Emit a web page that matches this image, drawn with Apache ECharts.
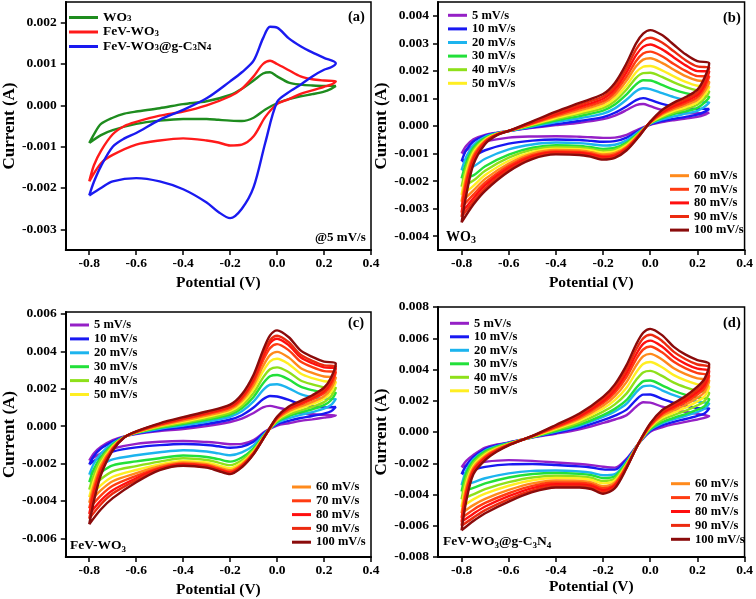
<!DOCTYPE html>
<html><head><meta charset="utf-8">
<script src="https://cdn.jsdelivr.net/npm/echarts@6/dist/echarts.min.js"></script>
<style>html,body{margin:0;padding:0;background:#fff}#c{width:756px;height:599px}</style>
</head><body><div id="c"></div><script>
// ---------- shared potential grids (V) ----------
const potForward = [-0.8, -0.78, -0.75, -0.7, -0.65, -0.6, -0.5, -0.4, -0.3, -0.2, -0.15, -0.1, -0.06, -0.03, 0, 0.05, 0.1, 0.15, 0.2, 0.25];
const potReverse = [0.23, 0.2, 0.15, 0.1, 0.05, 0, -0.05, -0.1, -0.15, -0.2, -0.25, -0.3, -0.4, -0.5, -0.6, -0.7, -0.75, -0.8];

// ---------- tick labels ----------
const xTicks = [-0.8, -0.6, -0.4, -0.2, 0, 0.2, 0.4];
const yTicksA = [-0.003, -0.002, -0.001, 0, 0.001, 0.002];
const yTicksB = [-0.004, -0.003, -0.002, -0.001, 0, 0.001, 0.002, 0.003, 0.004];
const yTicksC = [-0.006, -0.004, -0.002, 0, 0.002, 0.004, 0.006];
const yTicksD = [-0.008, -0.006, -0.004, -0.002, 0, 0.002, 0.004, 0.006, 0.008];

// ---------- panel (a) currents (mA) ----------
const sampleNames = ['WO3', 'FeV-WO3', 'FeV-WO3@g-C3N4'];
const sampleColors = ['#1E8C1E', '#FF1A1A', '#1A1AF0'];
const aForward = [
  [-0.91, -0.7, -0.45, -0.3, -0.2, -0.15, -0.07, 0.03, 0.1, 0.25, 0.4, 0.6, 0.77, 0.8, 0.7, 0.55, 0.5, 0.48, 0.47, 0.47],
  [-1.84, -1.45, -1.1, -0.7, -0.5, -0.4, -0.25, -0.15, 0.0, 0.22, 0.4, 0.7, 1.0, 1.08, 1.0, 0.85, 0.7, 0.63, 0.6, 0.58],
  [-2.18, -1.85, -1.47, -1.0, -0.8, -0.67, -0.35, -0.11, 0.17, 0.58, 0.8, 1.08, 1.62, 1.9, 1.88, 1.62, 1.43, 1.28, 1.15, 1.02]
];
const aReverse = [
  [0.4, 0.33, 0.27, 0.22, 0.15, 0.05, -0.1, -0.3, -0.38, -0.37, -0.35, -0.33, -0.33, -0.37, -0.45, -0.6, -0.72, -0.91],
  [0.5, 0.45, 0.36, 0.28, 0.15, 0.03, -0.28, -0.75, -0.95, -0.97, -0.9, -0.85, -0.8, -0.85, -0.95, -1.2, -1.4, -1.84],
  [0.92, 0.86, 0.7, 0.5, 0.32, 0.08, -0.9, -1.98, -2.5, -2.73, -2.58, -2.35, -2.03, -1.84, -1.76, -1.84, -2.0, -2.18]
];

// ---------- scan rates ----------
const rateNames = ['5 mV/s', '10 mV/s', '20 mV/s', '30 mV/s', '40 mV/s', '50 mV/s', '60 mV/s', '70 mV/s', '80 mV/s', '90 mV/s', '100 mV/s'];
const rateColors = ['#9520C6', '#1818F2', '#1CB4EE', '#22E03A', '#8EE01A', '#FFEE22', '#FF8A1C', '#FF3C12', '#FF0F0F', '#EC2A10', '#8A0B0B'];

// ---------- panel (b) WO3 (mA) ----------
const wo3Forward = [
  [-1.0, -0.72, -0.48, -0.32, -0.24, -0.18, -0.07, 0.03, 0.12, 0.25, 0.38, 0.58, 0.76, 0.8, 0.72, 0.58, 0.5, 0.47, 0.46, 0.48],
  [-1.28, -0.87, -0.56, -0.35, -0.25, -0.18, -0.05, 0.07, 0.18, 0.32, 0.48, 0.72, 0.94, 1.01, 0.95, 0.80, 0.70, 0.65, 0.62, 0.62],
  [-1.6, -1.12, -0.69, -0.39, -0.26, -0.18, -0.02, 0.14, 0.28, 0.45, 0.64, 0.96, 1.26, 1.37, 1.34, 1.19, 1.05, 0.95, 0.88, 0.85],
  [-1.9, -1.32, -0.79, -0.43, -0.27, -0.18, 0.01, 0.20, 0.36, 0.56, 0.78, 1.15, 1.51, 1.66, 1.65, 1.49, 1.32, 1.19, 1.10, 1.05],
  [-2.2, -1.50, -0.89, -0.47, -0.28, -0.18, 0.04, 0.25, 0.44, 0.65, 0.90, 1.33, 1.75, 1.92, 1.93, 1.78, 1.58, 1.41, 1.29, 1.25],
  [-2.5, -1.66, -0.97, -0.50, -0.29, -0.18, 0.06, 0.29, 0.50, 0.73, 1.01, 1.48, 1.95, 2.15, 2.18, 2.02, 1.80, 1.60, 1.46, 1.42],
  [-2.75, -1.84, -1.06, -0.53, -0.30, -0.18, 0.08, 0.34, 0.57, 0.82, 1.12, 1.65, 2.17, 2.41, 2.46, 2.29, 2.04, 1.81, 1.65, 1.60],
  [-2.95, -1.99, -1.14, -0.56, -0.30, -0.18, 0.10, 0.38, 0.64, 0.90, 1.23, 1.80, 2.36, 2.63, 2.70, 2.53, 2.25, 2.00, 1.81, 1.80],
  [-3.15, -2.16, -1.23, -0.59, -0.31, -0.18, 0.12, 0.43, 0.70, 0.99, 1.34, 1.96, 2.57, 2.87, 2.96, 2.78, 2.49, 2.20, 1.99, 1.98],
  [-3.3, -2.32, -1.31, -0.62, -0.32, -0.18, 0.15, 0.47, 0.77, 1.07, 1.44, 2.11, 2.78, 3.10, 3.20, 3.03, 2.71, 2.39, 2.16, 2.12],
  [-3.5, -2.5, -1.4, -0.65, -0.33, -0.18, 0.17, 0.52, 0.84, 1.16, 1.56, 2.28, 3.0, 3.35, 3.48, 3.3, 2.95, 2.6, 2.35, 2.28]
];
const wo3Reverse = [
  [0.40, 0.33, 0.27, 0.21, 0.14, 0.04, -0.12, -0.32, -0.42, -0.43, -0.41, -0.39, -0.37, -0.38, -0.42, -0.56, -0.72, -1.0],
  [0.51, 0.41, 0.33, 0.26, 0.18, 0.06, -0.17, -0.42, -0.55, -0.57, -0.54, -0.51, -0.49, -0.53, -0.64, -0.88, -1.10, -1.28],
  [0.70, 0.55, 0.45, 0.35, 0.24, 0.08, -0.22, -0.52, -0.68, -0.71, -0.66, -0.62, -0.60, -0.67, -0.85, -1.19, -1.47, -1.6],
  [0.85, 0.66, 0.53, 0.43, 0.29, 0.10, -0.26, -0.60, -0.79, -0.83, -0.77, -0.72, -0.70, -0.79, -1.04, -1.46, -1.79, -1.9],
  [0.99, 0.77, 0.61, 0.49, 0.33, 0.11, -0.29, -0.65, -0.86, -0.90, -0.83, -0.78, -0.76, -0.86, -1.15, -1.62, -1.98, -2.2],
  [1.12, 0.86, 0.68, 0.55, 0.37, 0.12, -0.31, -0.70, -0.92, -0.97, -0.89, -0.84, -0.82, -0.94, -1.26, -1.78, -2.17, -2.5],
  [1.25, 0.95, 0.76, 0.61, 0.42, 0.12, -0.33, -0.75, -0.98, -1.03, -0.95, -0.89, -0.87, -1.00, -1.36, -1.92, -2.34, -2.75],
  [1.37, 1.04, 0.83, 0.67, 0.46, 0.13, -0.35, -0.79, -1.03, -1.09, -1.00, -0.94, -0.92, -1.06, -1.44, -2.05, -2.49, -2.95],
  [1.49, 1.13, 0.90, 0.73, 0.50, 0.14, -0.37, -0.82, -1.08, -1.13, -1.04, -0.98, -0.96, -1.11, -1.52, -2.15, -2.62, -3.15],
  [1.62, 1.22, 0.97, 0.79, 0.54, 0.15, -0.39, -0.85, -1.12, -1.18, -1.09, -1.02, -1.00, -1.16, -1.59, -2.26, -2.74, -3.3],
  [1.75, 1.32, 1.05, 0.85, 0.58, 0.15, -0.4, -0.88, -1.16, -1.22, -1.12, -1.05, -1.03, -1.2, -1.65, -2.35, -2.85, -3.5]
];

// ---------- panel (c) FeV-WO3 (mA) ----------
const fevForward = [
  [-1.84, -1.45, -1.1, -0.75, -0.55, -0.42, -0.27, -0.16, 0.0, 0.22, 0.4, 0.7, 1.0, 1.08, 1.0, 0.85, 0.7, 0.63, 0.6, 0.58],
  [-2.05, -1.6, -1.2, -0.83, -0.56, -0.40, -0.21, -0.07, 0.11, 0.35, 0.58, 0.99, 1.43, 1.61, 1.58, 1.40, 1.17, 1.06, 1.00, 1.02],
  [-2.6, -2.0, -1.45, -0.92, -0.57, -0.38, -0.14, 0.03, 0.23, 0.50, 0.79, 1.32, 1.92, 2.21, 2.24, 2.02, 1.71, 1.55, 1.46, 1.45],
  [-3.0, -2.3, -1.65, -0.98, -0.57, -0.36, -0.09, 0.11, 0.33, 0.61, 0.95, 1.56, 2.28, 2.66, 2.73, 2.49, 2.11, 1.92, 1.80, 1.78],
  [-3.4, -2.6, -1.8, -1.04, -0.58, -0.35, -0.05, 0.17, 0.41, 0.70, 1.08, 1.77, 2.59, 3.04, 3.14, 2.88, 2.44, 2.23, 2.08, 2.05],
  [-3.8, -2.9, -1.98, -1.10, -0.58, -0.33, 0.00, 0.24, 0.49, 0.81, 1.22, 1.99, 2.92, 3.46, 3.60, 3.31, 2.81, 2.56, 2.40, 2.36],
  [-4.1, -3.15, -2.1, -1.15, -0.59, -0.32, 0.03, 0.30, 0.56, 0.89, 1.34, 2.18, 3.20, 3.79, 3.97, 3.66, 3.11, 2.84, 2.65, 2.6],
  [-4.4, -3.38, -2.25, -1.20, -0.59, -0.31, 0.07, 0.37, 0.64, 0.98, 1.47, 2.38, 3.50, 4.17, 4.38, 4.05, 3.45, 3.15, 2.94, 2.88],
  [-4.7, -3.6, -2.38, -1.24, -0.59, -0.30, 0.10, 0.41, 0.69, 1.05, 1.56, 2.52, 3.71, 4.44, 4.67, 4.32, 3.68, 3.36, 3.14, 3.08],
  [-4.95, -3.8, -2.48, -1.26, -0.60, -0.29, 0.12, 0.44, 0.73, 1.09, 1.61, 2.61, 3.84, 4.59, 4.83, 4.48, 3.82, 3.49, 3.25, 3.2],
  [-5.25, -4.0, -2.6, -1.3, -0.6, -0.28, 0.15, 0.48, 0.78, 1.15, 1.7, 2.75, 4.05, 4.85, 5.12, 4.75, 4.05, 3.7, 3.45, 3.35]
];
const fevReverse = [
  [0.5, 0.45, 0.36, 0.28, 0.15, 0.03, -0.28, -0.75, -0.95, -0.97, -0.9, -0.85, -0.8, -0.84, -0.95, -1.2, -1.45, -1.84],
  [0.79, 0.67, 0.54, 0.43, 0.28, 0.10, -0.31, -0.84, -1.10, -1.16, -1.08, -1.01, -0.96, -1.02, -1.14, -1.36, -1.63, -2.05],
  [1.13, 0.93, 0.75, 0.60, 0.42, 0.17, -0.36, -1.03, -1.41, -1.56, -1.46, -1.36, -1.29, -1.40, -1.56, -1.78, -2.11, -2.6],
  [1.38, 1.12, 0.90, 0.73, 0.53, 0.23, -0.41, -1.19, -1.68, -1.90, -1.77, -1.65, -1.57, -1.72, -1.89, -2.10, -2.47, -3.0],
  [1.59, 1.28, 1.03, 0.84, 0.62, 0.27, -0.43, -1.28, -1.83, -2.09, -1.95, -1.81, -1.72, -1.90, -2.14, -2.42, -2.83, -3.4],
  [1.82, 1.46, 1.17, 0.95, 0.72, 0.33, -0.46, -1.35, -1.95, -2.25, -2.10, -1.95, -1.86, -2.05, -2.35, -2.71, -3.16, -3.8],
  [2.01, 1.60, 1.29, 1.05, 0.80, 0.37, -0.47, -1.40, -2.04, -2.36, -2.21, -2.04, -1.95, -2.15, -2.52, -2.95, -3.43, -4.1],
  [2.22, 1.76, 1.42, 1.16, 0.89, 0.42, -0.48, -1.44, -2.10, -2.44, -2.28, -2.11, -2.01, -2.23, -2.66, -3.19, -3.70, -4.4],
  [2.37, 1.87, 1.51, 1.23, 0.95, 0.45, -0.49, -1.46, -2.14, -2.49, -2.33, -2.15, -2.05, -2.28, -2.79, -3.43, -3.97, -4.7],
  [2.45, 1.94, 1.56, 1.28, 0.99, 0.47, -0.50, -1.49, -2.18, -2.54, -2.37, -2.19, -2.09, -2.32, -2.89, -3.61, -4.18, -4.95],
  [2.6, 2.05, 1.65, 1.35, 1.05, 0.5, -0.5, -1.5, -2.2, -2.57, -2.4, -2.22, -2.12, -2.35, -3.0, -3.85, -4.45, -5.25]
];

// ---------- panel (d) FeV-WO3@g-C3N4 (mA) ----------
const cnForward = [
  [-2.25, -1.85, -1.47, -1.0, -0.8, -0.67, -0.35, -0.11, 0.17, 0.58, 0.8, 1.08, 1.62, 1.9, 1.88, 1.62, 1.43, 1.28, 1.15, 1.02],
  [-2.7, -2.13, -1.61, -1.09, -0.85, -0.69, -0.34, -0.05, 0.28, 0.76, 1.05, 1.43, 2.06, 2.39, 2.40, 2.12, 1.87, 1.68, 1.53, 1.5],
  [-3.4, -2.44, -1.75, -1.18, -0.90, -0.71, -0.33, 0.02, 0.40, 0.96, 1.32, 1.82, 2.54, 2.92, 2.97, 2.67, 2.36, 2.12, 1.94, 1.82],
  [-3.8, -2.62, -1.84, -1.24, -0.94, -0.72, -0.32, 0.06, 0.47, 1.08, 1.48, 2.05, 2.81, 3.24, 3.30, 2.99, 2.64, 2.38, 2.19, 2.1],
  [-4.3, -2.95, -2.00, -1.34, -0.99, -0.75, -0.31, 0.13, 0.60, 1.30, 1.77, 2.47, 3.33, 3.81, 3.91, 3.59, 3.16, 2.86, 2.63, 2.5],
  [-4.8, -3.25, -2.15, -1.44, -1.05, -0.77, -0.30, 0.20, 0.73, 1.50, 2.04, 2.85, 3.81, 4.35, 4.48, 4.14, 3.64, 3.30, 3.05, 2.9],
  [-5.2, -3.53, -2.28, -1.53, -1.10, -0.79, -0.28, 0.26, 0.84, 1.68, 2.29, 3.21, 4.25, 4.84, 5.00, 4.64, 4.08, 3.70, 3.43, 3.3],
  [-5.5, -3.79, -2.41, -1.61, -1.14, -0.81, -0.27, 0.32, 0.94, 1.85, 2.51, 3.53, 4.65, 5.28, 5.47, 5.10, 4.49, 4.07, 3.77, 3.6],
  [-5.75, -3.99, -2.50, -1.67, -1.18, -0.82, -0.27, 0.36, 1.02, 1.98, 2.69, 3.79, 4.96, 5.64, 5.85, 5.47, 4.81, 4.36, 4.05, 3.9],
  [-6.0, -4.20, -2.60, -1.74, -1.21, -0.84, -0.26, 0.41, 1.10, 2.12, 2.87, 4.04, 5.28, 5.99, 6.22, 5.83, 5.13, 4.66, 4.32, 4.15],
  [-6.3, -4.4, -2.7, -1.8, -1.25, -0.85, -0.25, 0.45, 1.18, 2.25, 3.05, 4.3, 5.6, 6.35, 6.6, 6.2, 5.45, 4.95, 4.6, 4.35]
];
const cnReverse = [
  [0.9, 0.8, 0.65, 0.5, 0.3, 0.02, -0.75, -1.7, -2.28, -2.22, -2.12, -2.05, -1.95, -1.85, -1.8, -1.9, -2.05, -2.25],
  [1.18, 1.03, 0.83, 0.65, 0.42, 0.08, -0.75, -1.76, -2.41, -2.39, -2.27, -2.20, -2.11, -2.05, -2.07, -2.23, -2.42, -2.7],
  [1.48, 1.28, 1.03, 0.81, 0.55, 0.14, -0.75, -1.89, -2.70, -2.77, -2.61, -2.53, -2.46, -2.49, -2.65, -2.96, -3.22, -3.4],
  [1.65, 1.43, 1.15, 0.91, 0.63, 0.18, -0.75, -1.95, -2.83, -2.95, -2.76, -2.68, -2.62, -2.69, -2.91, -3.29, -3.58, -3.8],
  [1.98, 1.70, 1.36, 1.08, 0.77, 0.25, -0.75, -2.02, -2.98, -3.14, -2.93, -2.85, -2.80, -2.91, -3.21, -3.65, -3.99, -4.3],
  [2.28, 1.96, 1.56, 1.24, 0.91, 0.31, -0.75, -2.07, -3.10, -3.29, -3.07, -2.98, -2.94, -3.09, -3.44, -3.95, -4.31, -4.8],
  [2.55, 2.19, 1.74, 1.39, 1.03, 0.37, -0.75, -2.13, -3.23, -3.47, -3.22, -3.13, -3.10, -3.29, -3.71, -4.28, -4.68, -5.2],
  [2.80, 2.40, 1.90, 1.53, 1.14, 0.42, -0.75, -2.18, -3.34, -3.60, -3.34, -3.25, -3.23, -3.45, -3.92, -4.54, -4.97, -5.5],
  [3.00, 2.56, 2.04, 1.63, 1.22, 0.47, -0.75, -2.22, -3.43, -3.73, -3.45, -3.36, -3.34, -3.59, -4.11, -4.77, -5.23, -5.75],
  [3.20, 2.73, 2.17, 1.74, 1.31, 0.51, -0.75, -2.26, -3.52, -3.85, -3.56, -3.46, -3.45, -3.73, -4.29, -5.00, -5.48, -6.0],
  [3.4, 2.9, 2.3, 1.85, 1.4, 0.55, -0.75, -2.3, -3.6, -3.95, -3.65, -3.55, -3.55, -3.85, -4.45, -5.2, -5.7, -6.3]
];

// ---------- build ----------
const FONT = "'Liberation Serif', 'Times New Roman', serif";
const subStyle = (fs, lh) => ({ fontFamily: FONT, fontWeight: 'bold', fontSize: fs, lineHeight: lh, verticalAlign: 'bottom', color: '#000' });
const richLabel = {
  'WO3': 'WO{s|3}',
  'FeV-WO3': 'FeV-WO{s|3}',
  'FeV-WO3@g-C3N4': 'FeV-WO{s|3}@g-C{s|3}N{s|4}'
};

function loopPoints(fwd, rev) {
  const pts = potForward.map((p, i) => [p, fwd[i] / 1000]);
  return pts.concat(potReverse.map((p, i) => [p, rev[i] / 1000]));
}

const grids = [
  { left: 61, top: 2, width: 310, height: 248 },
  { left: 438, top: 2, width: 308, height: 248 },
  { left: 61, top: 312, width: 310, height: 247 },
  { left: 438, top: 307, width: 308, height: 250 }
].map(g => Object.assign(g, { show: true, borderColor: '#000', borderWidth: 1.5, containLabel: false }));

const yRanges = [[-0.0035, 0.0025], [-0.0045, 0.0045], [-0.007, 0.0061], [-0.008, 0.008]];
const yTickSets = [yTicksA, yTicksB, yTicksC, yTicksD];
const xNameGap = [25, 25, 25, 21];
const yNameGap = [41, 42, 41, 40];

const axisLbl = { fontFamily: FONT, fontWeight: 'bold', fontSize: 13.5, color: '#000' };

const xAxes = grids.map((g, i) => ({
  gridIndex: i, type: 'value', min: -0.9, max: 0.4,
  name: 'Potential (V)', nameLocation: 'middle', nameGap: xNameGap[i],
  nameTextStyle: { fontFamily: FONT, fontWeight: 'bold', fontSize: 15.5, color: '#000' },
  axisLine: { show: true, onZero: false, lineStyle: { color: '#000', width: 2 } },
  axisTick: { show: true, inside: false, length: 5, customValues: xTicks, lineStyle: { color: '#000', width: 1.5 } },
  axisLabel: Object.assign({ margin: 7, customValues: xTicks, formatter: v => v.toFixed(1) }, axisLbl),
  splitLine: { show: false }
}));

const yAxes = grids.map((g, i) => ({
  gridIndex: i, type: 'value', min: yRanges[i][0], max: yRanges[i][1],
  name: 'Current (A)', nameLocation: 'middle', nameGap: yNameGap[i],
  nameTextStyle: { fontFamily: FONT, fontWeight: 'bold', fontSize: 17, color: '#000' },
  axisLine: { show: true, onZero: false, lineStyle: { color: '#000', width: 2 } },
  axisTick: { show: true, inside: false, length: 5, customValues: yTickSets[i], lineStyle: { color: '#000', width: 1.5 } },
  axisLabel: Object.assign({ margin: 9, customValues: yTickSets[i], formatter: v => (Math.abs(v) < 1e-9 ? 0 : v).toFixed(3) }, axisLbl),
  splitLine: { show: false }
}));

const series = [];
function addLine(idx, name, color, pts) {
  series.push({
    type: 'line', name: name, xAxisIndex: idx, yAxisIndex: idx, data: pts,
    showSymbol: false, symbol: 'none', smooth: 0.3, color: color,
    lineStyle: { width: 2.4, color: color }, animation: false, silent: true
  });
}
sampleNames.forEach((n, i) => addLine(0, n, sampleColors[i], loopPoints(aForward[i], aReverse[i])));
rateNames.forEach((n, i) => addLine(1, n, rateColors[i], loopPoints(wo3Forward[i], wo3Reverse[i])));
rateNames.forEach((n, i) => addLine(2, n, rateColors[i], loopPoints(fevForward[i], fevReverse[i])));
rateNames.forEach((n, i) => addLine(3, n, rateColors[i], loopPoints(cnForward[i], cnReverse[i])));

function rateLegend(left, top, names, gap) {
  return {
    orient: 'vertical', left: left, top: top, padding: 0, itemGap: gap,
    itemWidth: 19, itemHeight: 3, icon: 'rect', data: names, selectedMode: false,
    textStyle: { fontFamily: FONT, fontWeight: 'bold', fontSize: 12.5, lineHeight: 13, color: '#000' }
  };
}
const firstRates = rateNames.slice(0, 6);
const lastRates = rateNames.slice(6);

const legends = [
  {
    orient: 'vertical', left: 69, top: 10.5, padding: 0, itemGap: 0.5,
    itemWidth: 29, itemHeight: 3, icon: 'rect', data: sampleNames, selectedMode: false,
    formatter: n => richLabel[n],
    textStyle: { fontFamily: FONT, fontWeight: 'bold', fontSize: 13.5, lineHeight: 12, color: '#000', rich: { s: subStyle(9, 7) } }
  },
  rateLegend(448, 8.8, firstRates, 0.6),
  rateLegend(670, 169.2, lastRates, 0.6),
  rateLegend(70, 318.5, firstRates, 0.9),
  rateLegend(292, 480.5, lastRates, 0.8),
  rateLegend(450, 316.8, firstRates, 0.5),
  rateLegend(671, 477.2, lastRates, 0.9)
];

function txt(x, y, text, size) {
  return {
    type: 'text', x: x, y: y, silent: true, z: 100,
    style: {
      text: text, fill: '#000', font: 'bold ' + size + 'px ' + FONT,
      align: 'left', verticalAlign: 'middle', lineHeight: size + 2,
      rich: { s: subStyle(Math.round(size * 0.68), Math.round(size * 0.6)) }
    }
  };
}
const graphics = [
  txt(348, 17, '(a)', 14.5),
  txt(723, 18, '(b)', 14.5),
  txt(348, 323, '(c)', 14.5),
  txt(723, 323, '(d)', 14.5),
  txt(315, 238, '@5 mV/s', 13),
  txt(446, 237, 'WO{s|3}', 14),
  txt(70, 546, 'FeV-WO{s|3}', 13.5),
  txt(443, 542, 'FeV-WO{s|3}@g-C{s|3}N{s|4}', 13.5)
];

const chart = echarts.init(document.getElementById('c'), null, { renderer: 'canvas' });
chart.setOption({
  animation: false,
  backgroundColor: '#fff',
  grid: grids,
  xAxis: xAxes,
  yAxis: yAxes,
  legend: legends,
  series: series,
  graphic: graphics
});
</script></body></html>
